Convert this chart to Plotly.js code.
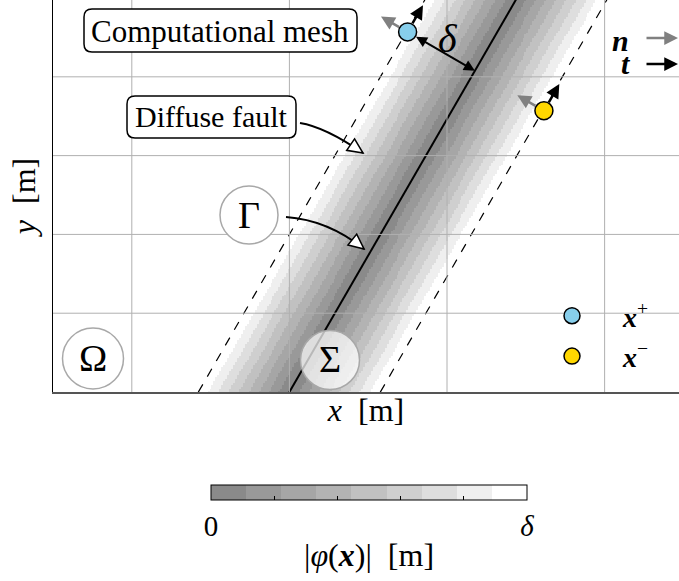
<!DOCTYPE html>
<html><head><meta charset="utf-8">
<script src="https://cdn.plot.ly/plotly-3.0.1.min.js"></script>
<style>html,body{margin:0;padding:0;background:#fff}</style>
</head><body><div id="chart" style="width:679px;height:581px"></div>
<script>
// ---------------- data ----------------
const faultX0 = 3.0;          // fault crosses y=0 at this x [m]
const faultAngleDeg = 60;     // fault orientation
const delta = 1.0;            // half width of the diffuse fault zone [m]
const xRange = [0, 7.944];
const yRange = [0, 4.975];
const gridX = [1, 3, 5, 7];
const gridY = [1, 2, 3, 4];
const levelColors = ['#8a8a8a','#999999','#a6a6a6','#b3b3b3','#c1c1c1','#cfcfcf','#dedede','#efefef','#ffffff'];
const pointPlus = [4.50, 4.57];
const pointMinus = [6.23, 3.57];
const vecLen = 0.39;
const cbTickVals = [0, 0.2, 0.4, 0.6, 0.8, 1];
const cbTickText = ['0', '', '', '', '', '<i>δ</i>'];

// ---------------- geometry helpers ----------------
const PL = 53, PT = 0, PW = 626, PH = 392;
const ppu = PW / (xRange[1] - xRange[0]);
const dx = px => xRange[0] + (px - PL) / ppu;
const dy = py => yRange[0] + (PT + PH - py) / ppu;
const ptd = (px, py) => dx(px).toFixed(4) + ',' + dy(py).toFixed(4);
const paperX = px => (px - PL) / PW;
const paperY = py => (PT + PH - py) / PH;

const a = faultAngleDeg * Math.PI / 180;
const ux = Math.cos(a), uy = Math.sin(a);      // tangent t
const nx = -Math.sin(a), ny = Math.cos(a);     // normal n
const hOff = delta / Math.sin(a);
const lineAt = (off, y) => faultX0 + off + y / Math.tan(a);
const yl = [yRange[0] - 0.2, yRange[1] + 0.2];

// distance field |phi| on a grid
const step = 0.025;
const hx = [], hy = [];
for (let x = xRange[0]; x <= xRange[1] + step; x += step) hx.push(+x.toFixed(4));
for (let y = yRange[0]; y <= yRange[1] + step; y += step) hy.push(+y.toFixed(4));
const hz = hy.map(y => hx.map(x => {
  const d = Math.abs((x - faultX0) * Math.sin(a) - y * Math.cos(a)) / delta;
  return d <= 1 ? d : null;
}));
const cs = [];
levelColors.forEach((c, k) => { cs.push([k / 9, c]); cs.push([(k + 1) / 9, c]); });

const serif = 'Liberation Serif, Times New Roman, serif';

const traces = [
  {type: 'heatmap', x: hx, y: hy, z: hz, zmin: 0, zmax: 1, colorscale: cs, zsmooth: false,
   hoverinfo: 'skip', showlegend: false,
   colorbar: {orientation: 'h', x: paperX(369), xanchor: 'center', y: paperY(485), yanchor: 'top',
     len: 316, lenmode: 'pixels', thickness: 15, thicknessmode: 'pixels', xpad: 0, ypad: 0,
     outlinecolor: '#000', outlinewidth: 1, tickvals: cbTickVals, ticktext: cbTickText,
     ticks: 'inside', ticklen: 4, tickcolor: '#000', tickwidth: 1,
     tickfont: {family: serif, size: 29, color: '#000'}}},
  {type: 'scatter', mode: 'lines', x: yl.map(y => lineAt(-hOff, y)), y: yl, line: {color: '#000', width: 1.2, dash: 'dash'}, showlegend: false, hoverinfo: 'skip'},
  {type: 'scatter', mode: 'lines', x: yl.map(y => lineAt(hOff, y)), y: yl, line: {color: '#000', width: 1.2, dash: 'dash'}, showlegend: false, hoverinfo: 'skip'},
  {type: 'scatter', mode: 'lines', x: yl.map(y => lineAt(0, y)), y: yl, line: {color: '#000', width: 2}, showlegend: false, hoverinfo: 'skip'},
  {type: 'scatter', mode: 'markers', x: [pointPlus[0]], y: [pointPlus[1]], name: '<b><i>x</i></b><sup>+</sup>', legendgroup: 'p',
   marker: {size: 18, color: '#87CEEB', line: {color: '#000', width: 1.5}}},
  {type: 'scatter', mode: 'markers', x: [pointMinus[0]], y: [pointMinus[1]], name: '<b><i>x</i></b><sup>−</sup>', legendgroup: 'm',
   marker: {size: 18, color: '#FFD700', line: {color: '#000', width: 1.5}}}
];

// ---------------- shapes ----------------
const shapes = [];
gridX.forEach(g => shapes.push({type: 'line', xref: 'x', yref: 'paper', x0: g, x1: g, y0: 0, y1: 1, layer: 'above', line: {color: '#b0b0b0', width: 1}}));
gridY.forEach(g => shapes.push({type: 'line', xref: 'paper', yref: 'y', x0: 0, x1: 1, y0: g, y1: g, layer: 'above', line: {color: '#b0b0b0', width: 1}}));

function roundRect(x0, y0, x1, y1, r) {
  return 'M' + ptd(x0 + r, y0) + ' L' + ptd(x1 - r, y0) + ' Q' + ptd(x1, y0) + ' ' + ptd(x1, y0 + r) +
    ' L' + ptd(x1, y1 - r) + ' Q' + ptd(x1, y1) + ' ' + ptd(x1 - r, y1) +
    ' L' + ptd(x0 + r, y1) + ' Q' + ptd(x0, y1) + ' ' + ptd(x0, y1 - r) +
    ' L' + ptd(x0, y0 + r) + ' Q' + ptd(x0, y0) + ' ' + ptd(x0 + r, y0) + ' Z';
}
shapes.push({type: 'path', xref: 'x', yref: 'y', layer: 'above', path: roundRect(84, 9, 357, 52, 8), fillcolor: '#fff', line: {color: '#000', width: 1.5}});
shapes.push({type: 'path', xref: 'x', yref: 'y', layer: 'above', path: roundRect(127, 96, 296, 138, 8), fillcolor: '#fff', line: {color: '#000', width: 1.5}});

function circ(cx, cy, r, fill) {
  shapes.push({type: 'circle', xref: 'x', yref: 'y', layer: 'above', x0: dx(cx - r), x1: dx(cx + r), y0: dy(cy + r), y1: dy(cy - r),
    fillcolor: fill, line: {color: '#a8a8a8', width: 1.5}});
}
circ(249, 215, 29, '#fff');
circ(93, 358.5, 30.5, '#fff');
circ(330, 360, 29.5, 'rgba(255,255,255,0.72)');

function curvedArrow(p0, c, p2) {
  shapes.push({type: 'path', xref: 'x', yref: 'y', layer: 'above',
    path: 'M' + ptd(p0[0], p0[1]) + ' Q' + ptd(c[0], c[1]) + ' ' + ptd(p2[0], p2[1]), line: {color: '#000', width: 2}});
  let tx = p2[0] - c[0], ty = p2[1] - c[1];
  const L = Math.hypot(tx, ty); tx /= L; ty /= L;
  const bx = p2[0] - 15 * tx, by = p2[1] - 15 * ty, qx = -ty, qy = tx;
  shapes.push({type: 'path', xref: 'x', yref: 'y', layer: 'above',
    path: 'M' + ptd(p2[0], p2[1]) + ' L' + ptd(bx + 7 * qx, by + 7 * qy) + ' L' + ptd(bx - 7 * qx, by - 7 * qy) + ' Z',
    fillcolor: '#fff', line: {color: '#000', width: 1.5}});
}
curvedArrow([300, 123], [325, 127], [363, 153]);
curvedArrow([286, 217], [328, 220], [364, 249]);

// ---------------- annotations ----------------
const ann = [];
const txt = (px, py, text, size, extra) => ann.push(Object.assign({xref: 'paper', yref: 'paper', x: paperX(px), y: paperY(py), text: text, showarrow: false,
  font: {family: serif, size: size, color: '#000'}, xanchor: 'center', yanchor: 'middle'}, extra || {}));
txt(220, 31, 'Computational mesh', 31);
txt(211, 117, 'Diffuse fault', 30);
txt(249, 215, 'Γ', 38);
txt(93, 358, 'Ω', 38);
txt(330, 359, 'Σ', 38);
txt(448, 38, '<i>δ</i>', 40);
txt(631, 40, '<b><i>n</i></b>', 30, {xanchor: 'right'});
txt(633, 64, '<b><i>t</i></b>', 30, {xanchor: 'right'});
txt(369, 555, '|<i>φ</i>(<b><i>x</i></b>)|  [m]', 32);

const arrowAt = (tipx, tipy, tailx, taily, color) => ann.push({xref: 'paper', yref: 'paper', x: paperX(tipx), y: paperY(tipy),
  axref: 'pixel', ayref: 'pixel', ax: tailx - tipx, ay: taily - tipy, text: '', showarrow: true, arrowhead: 2, arrowsize: 1.1, arrowwidth: 2.5, arrowcolor: color});
arrowAt(679, 38, 645, 38, '#808080');
arrowAt(679, 64, 645, 64, '#000');

function vec(p, vx, vy, color) {
  ann.push({xref: 'x', yref: 'y', axref: 'x', ayref: 'y', x: p[0] + vecLen * vx, y: p[1] + vecLen * vy, ax: p[0], ay: p[1],
    text: '', showarrow: true, arrowhead: 2, arrowsize: 1.1, arrowwidth: 2.5, arrowcolor: color, startstandoff: 8});
}
[pointPlus, pointMinus].forEach(p => { vec(p, nx, ny, '#808080'); vec(p, ux, uy, '#000'); });

// delta double arrow: from x+ to its projection on the fault
const vpx = pointPlus[0] - faultX0, vpy = pointPlus[1];
const proj = vpx * ux + vpy * uy;
const foot = [faultX0 + proj * ux, proj * uy];
ann.push({xref: 'x', yref: 'y', axref: 'x', ayref: 'y', x: foot[0], y: foot[1], ax: pointPlus[0], ay: pointPlus[1],
  text: '', showarrow: true, arrowside: 'end+start', arrowhead: 2, startarrowhead: 2, arrowsize: 1.1, startarrowsize: 1.1,
  arrowwidth: 2, arrowcolor: '#000', startstandoff: 8});

const layout = {
  width: 679, height: 581, margin: {l: PL, r: 0, t: PT, b: 581 - PT - PH},
  paper_bgcolor: '#fff', plot_bgcolor: '#fff', showlegend: true,
  xaxis: {range: xRange, showgrid: false, zeroline: false, showticklabels: false, ticks: '', showline: true, linecolor: '#555', linewidth: 1.5,
    layer: 'above traces', title: {text: '<i>x</i>  [m]', standoff: 6, font: {family: serif, size: 32, color: '#000'}}},
  yaxis: {range: yRange, showgrid: false, zeroline: false, showticklabels: false, ticks: '', showline: true, linecolor: '#000', linewidth: 1.5,
    layer: 'above traces', title: {text: '<i>y</i>  [m]', standoff: 6, font: {family: serif, size: 32, color: '#000'}}},
  legend: {x: paperX(521), xanchor: 'left', y: paperY(291), yanchor: 'top', bgcolor: 'rgba(0,0,0,0)', borderwidth: 0,
    itemwidth: 92, tracegroupgap: 1, font: {family: serif, size: 28, color: '#000'}, itemclick: false},
  shapes: shapes, annotations: ann
};
Plotly.newPlot('chart', traces, layout, {displayModeBar: false, staticPlot: true});
</script></body></html>
